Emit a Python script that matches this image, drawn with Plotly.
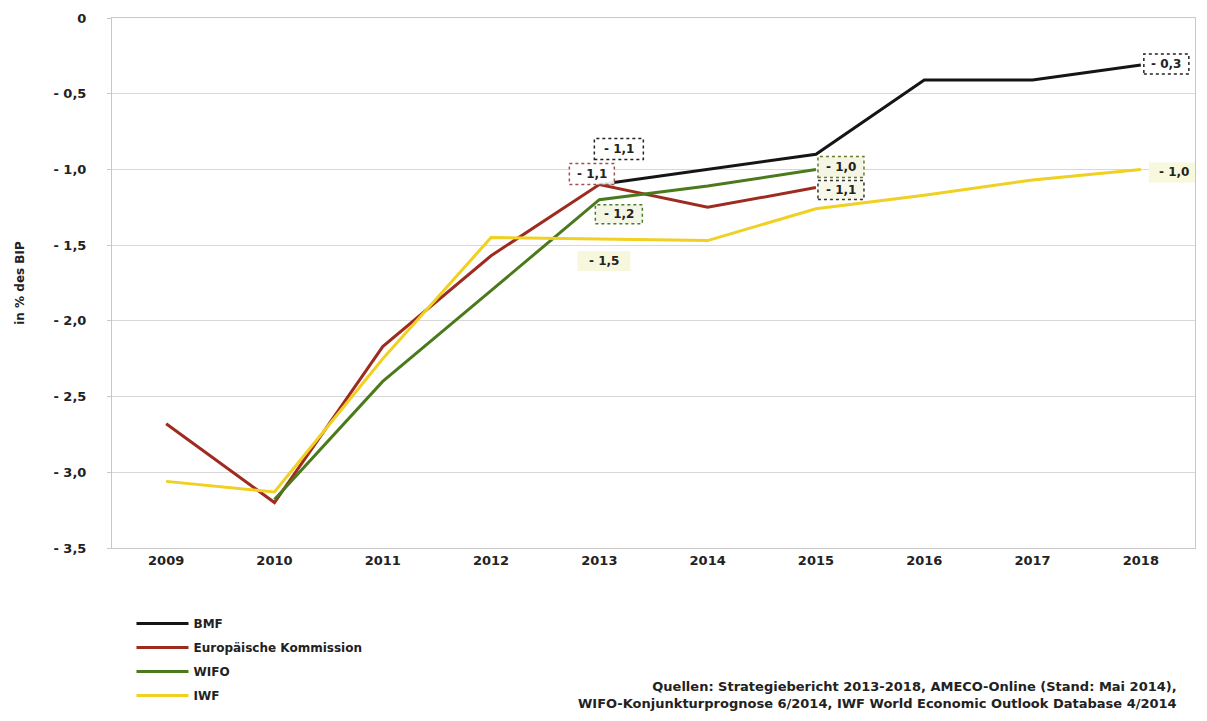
import plotly.graph_objects as go

years = ["2009", "2010", "2011", "2012", "2013", "2014", "2015", "2016", "2017", "2018"]

bmf_years = ["2013", "2014", "2015", "2016", "2017", "2018"]
bmf_vals = [-1.1, -1.0, -0.9, -0.41, -0.41, -0.31]

ek_years = ["2009", "2010", "2011", "2012", "2013", "2014", "2015"]
ek_vals = [-2.68, -3.2, -2.17, -1.57, -1.1, -1.25, -1.12]

wifo_years = ["2010", "2011", "2012", "2013", "2014", "2015"]
wifo_vals = [-3.18, -2.4, -1.8, -1.2, -1.11, -1.0]

iwf_years = ["2009", "2010", "2011", "2012", "2013", "2014", "2015", "2016", "2017", "2018"]
iwf_vals = [-3.06, -3.13, -2.25, -1.45, -1.46, -1.47, -1.26, -1.17, -1.07, -1.0]

ytick_vals = [0, -0.5, -1.0, -1.5, -2.0, -2.5, -3.0, -3.5]
ytick_text = ["0", "- 0,5", "- 1,0", "- 1,5", "- 2,0", "- 2,5", "- 3,0", "- 3,5"]

# labels: (text, year, value, box offsets px (x0,x1,y0,y1), border color, fill)
labels = [
    ("- 1,1", "2013", -1.1, (-5, 44, 25, 46), "#222222", "rgba(255,255,255,0.9)"),
    ("- 1,1", "2013", -1.1, (-30, 15, 0, 21), "#a0504a", "rgba(255,255,255,0.9)"),
    ("- 1,2", "2013", -1.2, (-4, 43, -24, -5), "#4a7a2a", "#f3f6e4"),
    ("- 1,5", "2013", -1.46, (-22, 31, -32, -12), None, "#f6f7dc"),
    ("- 1,0", "2015", -1.0, (2, 48, -8, 13), "#6b7a2a", "#f3f6e4"),
    ("- 1,1", "2015", -1.12, (2, 48, -12, 7), "#333333", "#f7f7ea"),
    ("- 0,3", "2018", -0.31, (3, 48, -9, 11), "#222222", "rgba(255,255,255,0.9)"),
    ("- 1,0", "2018", -1.0, (8, 58, -13, 7), None, "#f8f8dc"),
]

FONT = "DejaVu Sans"
W = "bold"
fig = go.Figure()

series = [
    ("BMF", bmf_years, bmf_vals, "#151515"),
    ("Europäische Kommission", ek_years, ek_vals, "#9e2b1f"),
    ("WIFO", wifo_years, wifo_vals, "#4b7a1c"),
    ("IWF", iwf_years, iwf_vals, "#f0d020"),
]
for name, xs, ys, col in series:
    fig.add_trace(go.Scatter(
        x=xs, y=ys, mode="lines", name=name, legendgroup=name,
        line=dict(color=col, width=3),
    ))

for text, yr, val, (x0, x1, y0, y1), bcol, fill in labels:
    xi = years.index(yr)
    fig.add_shape(
        type="rect", xref="x", yref="y", xsizemode="pixel", ysizemode="pixel",
        xanchor=xi, yanchor=val, x0=x0, x1=x1, y0=y0, y1=y1,
        line=dict(color=bcol if bcol else "rgba(0,0,0,0)", width=1.5, dash="dot"),
        fillcolor=fill, layer="above",
    )
    fig.add_annotation(
        x=xi, y=val, xref="x", yref="y", text=text, showarrow=False,
        xshift=(x0 + x1) / 2, yshift=(y0 + y1) / 2,
        font=dict(family=FONT, size=12, color="#222222", weight=W),
    )

fig.add_annotation(
    xref="paper", yref="paper", x=0.985, y=-0.312, xanchor="right", yanchor="bottom",
    align="right", showarrow=False,
    text="Quellen: Strategiebericht 2013-2018, AMECO-Online (Stand: Mai 2014),<br>"
         "WIFO-Konjunkturprognose 6/2014, IWF World Economic Outlook Database 4/2014",
    font=dict(family=FONT, size=13, color="#222222", weight=W),
)

fig.update_layout(
    width=1207, height=721,
    margin=dict(l=112, r=11, t=16, b=173),
    paper_bgcolor="white", plot_bgcolor="white",
    font=dict(family=FONT, size=12, color="#222222"),
    showlegend=True,
    legend=dict(
        x=0.018, y=-0.115, xanchor="left", yanchor="top",
        font=dict(family=FONT, size=12, color="#222222", weight=W),
        tracegroupgap=5, itemwidth=52, bgcolor="rgba(0,0,0,0)",
    ),
    xaxis=dict(
        type="category", categoryorder="array", categoryarray=years,
        range=[-0.5, 9.5], showgrid=False, showline=True, linecolor="#c8c8c8",
        mirror=True, ticks="", tickfont=dict(family=FONT, size=13, weight=W),
        zeroline=False,
    ),
    yaxis=dict(
        range=[-3.5, 0], tickvals=ytick_vals, ticktext=ytick_text,
        showgrid=True, gridcolor="#d8d8d8", gridwidth=1,
        showline=True, linecolor="#c8c8c8", mirror=True,
        ticks="outside", ticklen=4, tickcolor="#c8c8c8", ticklabelstandoff=18,
        tickfont=dict(family=FONT, size=13, weight=W),
        zeroline=False,
        title=dict(text="in % des BIP", standoff=26,
                   font=dict(family=FONT, size=12, weight=W)),
    ),
)

fig.write_html("out.html")
